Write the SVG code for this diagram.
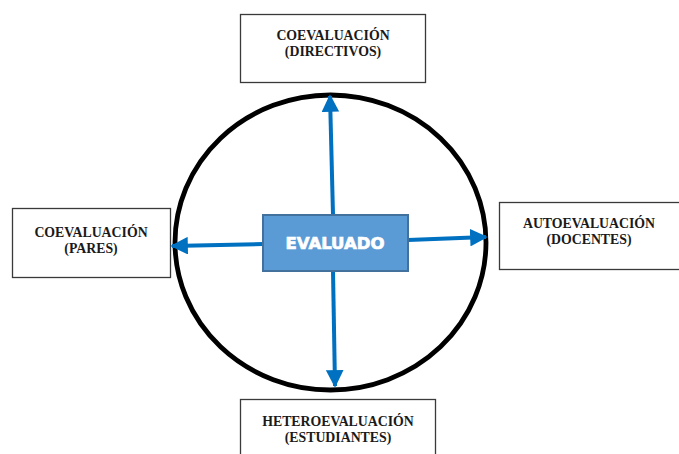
<svg xmlns="http://www.w3.org/2000/svg" width="679" height="454" viewBox="0 0 679 454">
<style>
.box{fill:#fff;stroke:#3a3a3a;stroke-width:1.3}
.lbl{font-family:"Liberation Serif","Times New Roman",serif;font-weight:bold;font-size:13.8px;fill:#1a1a1a;text-anchor:middle}
.arr{stroke:#0070c0;stroke-width:4;fill:none}
</style>
<defs>
<marker id="ah" viewBox="0 0 10 10" refX="9" refY="5" markerWidth="4.4" markerHeight="4.4" markerUnits="strokeWidth" orient="auto">
<path d="M0,0 L10,5 L0,10 Z" fill="#0070c0"/>
</marker>
</defs>
<rect width="679" height="454" fill="#fff"/>
<g id="top"><rect class="box" x="240.5" y="14.5" width="185" height="68"/>
<text class="lbl" x="333" y="40">COEVALUACIÓN</text>
<text class="lbl" x="333" y="56">(DIRECTIVOS)</text></g>
<g id="left"><rect class="box" x="12.5" y="208.5" width="158" height="69"/>
<text class="lbl" x="91" y="237">COEVALUACIÓN</text>
<text class="lbl" x="91" y="253">(PARES)</text></g>
<g id="right"><rect class="box" x="499.5" y="202.5" width="185" height="67"/>
<text class="lbl" x="589" y="228">AUTOEVALUACIÓN</text>
<text class="lbl" x="589" y="244">(DOCENTES)</text></g>
<g id="bottom"><rect class="box" x="240.5" y="399.5" width="195" height="70"/>
<text class="lbl" x="338" y="426">HETEROEVALUACIÓN</text>
<text class="lbl" x="338" y="442">(ESTUDIANTES)</text></g>
<g id="circle"><ellipse cx="330.5" cy="242.5" rx="155.5" ry="147.5" fill="none" stroke="#000" stroke-width="4.8"/></g>
<g id="connectors">
<line class="arr" x1="333" y1="215" x2="330" y2="96" marker-end="url(#ah)"/>
<line class="arr" x1="333" y1="271" x2="335" y2="386" marker-end="url(#ah)"/>
<line class="arr" x1="263" y1="244" x2="172" y2="246" marker-end="url(#ah)"/>
<line class="arr" x1="408" y1="240" x2="486" y2="237" marker-end="url(#ah)"/>
</g>
<g id="center"><rect x="263" y="215" width="145" height="56" fill="#5b9bd5" stroke="#41719c" stroke-width="2"/>
<text x="335" y="249" font-family="'DejaVu Sans','Liberation Sans',sans-serif" font-weight="bold" font-size="16.5px" fill="#fff" text-anchor="middle" stroke="#fff" stroke-width="0.7">EVALUADO</text></g>
</svg>
